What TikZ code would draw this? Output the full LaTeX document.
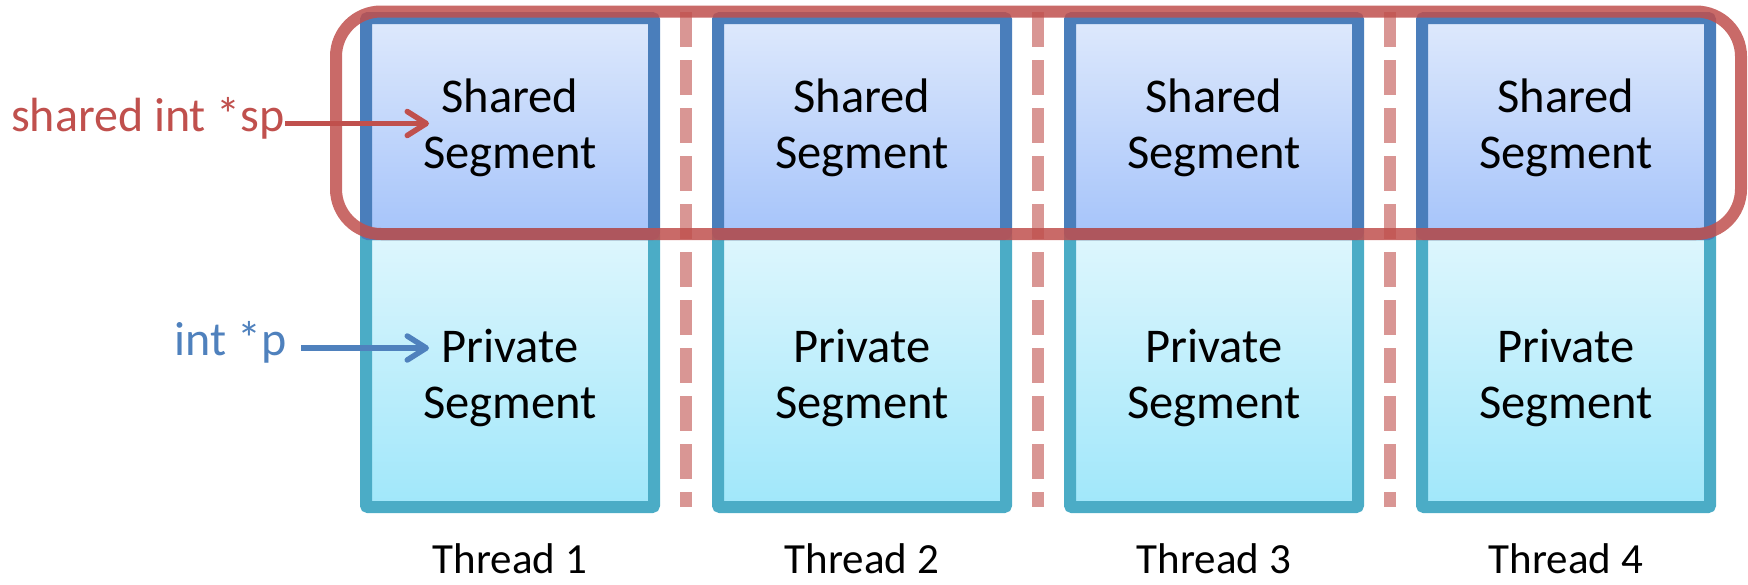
\documentclass[tikz,border=0pt]{standalone}
\usepackage{fontspec}
\setmainfont{Carlito}
\usetikzlibrary{arrows.meta,shadows}
\definecolor{sharedborder}{RGB}{74,126,187}
\definecolor{sharedtop}{RGB}{222,233,252}
\definecolor{sharedbot}{RGB}{166,196,250}
\definecolor{privborder}{RGB}{75,172,198}
\definecolor{privtop}{RGB}{222,246,253}
\definecolor{privbot}{RGB}{160,231,250}
\definecolor{redline}{RGB}{192,80,77}
\definecolor{dashred}{RGB}{217,150,148}
\definecolor{bluetext}{RGB}{79,129,189}
\begin{document}
\begin{tikzpicture}[x=1pt,y=-1pt,
  boxshadow/.style={drop shadow={shadow xshift=2pt,shadow yshift=-4pt,opacity=0.25,fill=black}},
  sharedbox/.style={draw=sharedborder,line width=12pt,top color=sharedtop,bottom color=sharedbot,
    minimum width=288pt,minimum height=216pt,inner sep=0pt,rounded corners=2pt,boxshadow},
  privbox/.style={draw=privborder,line width=12pt,top color=privtop,bottom color=privbot,
    minimum width=288pt,minimum height=273pt,inner sep=0pt,rounded corners=2pt,boxshadow},
  segtext/.style={font=\fontsize{48.5}{56}\selectfont,align=center,inner sep=0pt},
  threadlabel/.style={font=\fontsize{43}{52}\selectfont,inner sep=0pt,anchor=base},
  sepline/.style={draw=dashred,line width=12pt,dash pattern=on 35pt off 13pt},
  groupline/.style={draw=redline,line width=12pt,rounded corners=45pt,draw opacity=0.85},
  ptrlabel/.style={font=\fontsize{48}{56}\selectfont,inner sep=0pt,anchor=base east},
  ptrarrow/.style={line width=5.5pt,-{Straight Barb[round,length=19pt,width=24pt]}}
]
\useasboundingbox (0,0) rectangle (1748,584);
\foreach \i/\x in {1/510,2/862,3/1214,4/1566}{
  \node[privbox] (priv\i) at (\x,370.5) {};
  \node[segtext] (privtext\i) at (\x,378) {Private\\Segment};
  \node[sharedbox] (shared\i) at (\x,126) {};
  \node[segtext] (sharedtext\i) at (\x,128) {Shared\\Segment};
  \node[threadlabel] (thread\i) at (\x,573) {Thread \i};
}
\foreach \x in {686,1038,1390}{
  \draw[sepline] (\x,12) -- (\x,507);
}
\draw[groupline] (336,11.5) rectangle (1741,234);
\node[ptrlabel,text=redline] (sptext) at (285,131) {shared int *sp};
\coordinate (sptip) at (429,123.5);
\draw[ptrarrow,redline] (sptext.east |- sptip) -- (sptip);
\node[ptrlabel,text=bluetext] (ptext) at (287,355) {int *p};
\coordinate (ptip) at (429,348);
\draw[ptrarrow,bluetext] ([xshift=14pt]ptext.east |- ptip) -- (ptip);
\end{tikzpicture}
\end{document}
